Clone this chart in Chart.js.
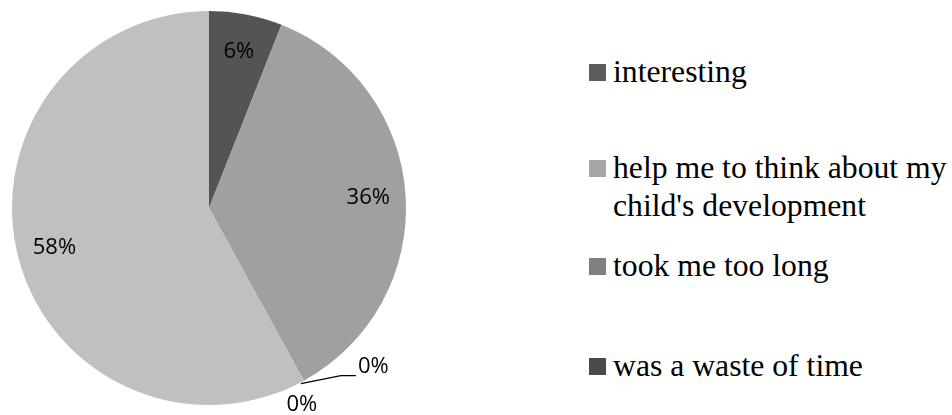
<!DOCTYPE html>
<html>
<head>
<meta charset="utf-8">
<script src="https://cdn.jsdelivr.net/npm/chart.js@4/dist/chart.umd.min.js"></script>
<style>
  html, body { margin: 0; padding: 0; background: #fff; }
  #wrap { position: relative; width: 952px; height: 415px; overflow: hidden; }
  #pie { position: absolute; left: 0; top: 0; width: 420px; height: 415px; }
  .item { position: absolute; left: 589px; font-family: 'Liberation Serif', Tinos, 'Times New Roman', Times, 'DejaVu Serif', serif;
          font-size: 31.7px; line-height: 38px; color: #000; white-space: nowrap; }
  .item .box { position: absolute; left: 0; top: 11px; width: 17px; height: 17px; }
  .item .txt { margin-left: 24px; }
</style>
</head>
<body>
<div id="wrap">
  <div id="pie"><canvas id="c"></canvas></div>
  <div id="legend"></div>
</div>
<script>
const categories = ['interesting', "help me to think about my\nchild's development", 'took me too long', 'was a waste of time', ''];
const values = [6, 36, 0, 0, 58];
const sliceColors = ['#545454', '#a0a0a0', '#808080', '#4b4b4b', '#c0c0c0'];
const legendColors = ['#5c5c5c', '#a6a6a6', '#808080', '#4b4b4b'];
const legendTops = [53, 149, 247, 347];

// legend (html)
let legend = document.getElementById('legend')
categories.slice(0, 4).forEach((cat, i) => {
  let d = document.createElement('div')
  d.className = 'item'
  d.style.top = legendTops[i] + 'px'
  let box = document.createElement('span')
  box.className = 'box'
  box.style.background = legendColors[i]
  let txt = document.createElement('div')
  txt.className = 'txt'
  cat.split('\n').forEach((line, k) => {
    if (k) txt.appendChild(document.createElement('br'))
    txt.appendChild(document.createTextNode(line))
  })
  d.appendChild(box)
  d.appendChild(txt)
  legend.appendChild(d)
})

const pctLabels = {
  id: 'pctLabels',
  afterDatasetsDraw(chart) {
    const ctx = chart.ctx
    const arcs = chart.getDatasetMeta(0).data
    const total = values.reduce((a, b) => a + b, 0)
    ctx.save()
    ctx.font = '22px "Open Sans", "Noto Sans", sans-serif'
    ctx.fillStyle = '#000'
    ctx.textBaseline = 'middle'
    let zeros = 0
    arcs.forEach((arc, i) => {
      const p = arc.getProps(['x', 'y', 'startAngle', 'endAngle', 'outerRadius'], true)
      const txt = Math.round(values[i] / total * 100) + '%'
      if (values[i] > 0) {
        const mid = (p.startAngle + p.endAngle) / 2
        const d = p.outerRadius * 0.81
        ctx.textAlign = 'center'
        ctx.fillText(txt, p.x + Math.cos(mid) * d, p.y + Math.sin(mid) * d)
      } else {
        // zero slices sit on the edge, labels pushed outside
        const ex = p.x + Math.cos(p.startAngle) * p.outerRadius
        const ey = p.y + Math.sin(p.startAngle) * p.outerRadius
        if (zeros === 0) {
          ctx.strokeStyle = '#000'
          ctx.lineWidth = 1.3
          ctx.beginPath()
          ctx.moveTo(ex - 3, ey + 3)
          ctx.lineTo(ex + 37, ey - 5)
          ctx.lineTo(ex + 52, ey - 5)
          ctx.stroke()
          ctx.textAlign = 'left'
          ctx.fillText(txt, ex + 54, ey - 14)
        } else {
          ctx.textAlign = 'center'
          ctx.fillText(txt, ex - 2, ey + 24)
        }
        zeros++
      }
    })
    ctx.restore()
  }
}

new Chart(document.getElementById('c'), {
  type: 'pie',
  data: {
    labels: categories,
    datasets: [{
      data: values,
      backgroundColor: sliceColors,
      borderWidth: 0
    }]
  },
  options: {
    responsive: true,
    maintainAspectRatio: false,
    animation: false,
    layout: { padding: { left: 12, right: 14, top: 11, bottom: 10 } },
    plugins: {
      legend: { display: false },
      tooltip: { enabled: false }
    }
  },
  plugins: [pctLabels]
})
</script>
</body>
</html>
